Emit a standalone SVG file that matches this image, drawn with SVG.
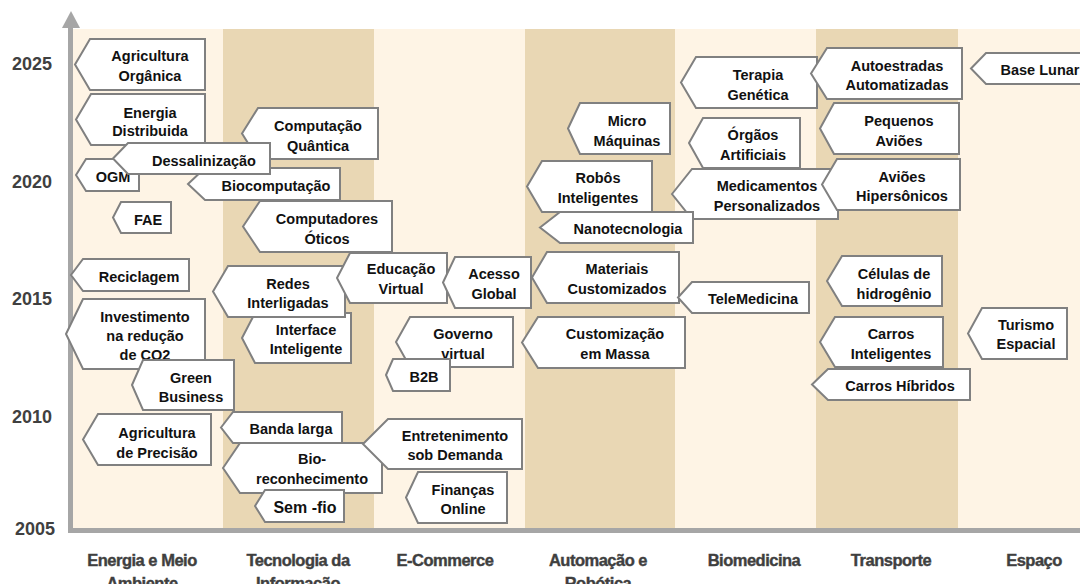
<svg xmlns="http://www.w3.org/2000/svg" width="1080" height="584" viewBox="0 0 1080 584">
<style>
.bl{fill:#FEF4E5}
.bd{fill:#E9D7B4}
.ax{fill:#A6A6A6}
.yr{font-family:"Liberation Sans",Arial,sans-serif;font-weight:bold;font-size:18px;fill:#404040;text-anchor:end}
.cat{font-family:"Liberation Sans",Arial,sans-serif;font-weight:bold;font-size:16.5px;fill:#3F3F3F;stroke:#3F3F3F;stroke-width:0.4;text-anchor:middle;letter-spacing:-0.5px}
.n polygon{fill:#FFFFFF;stroke:#808080;stroke-width:2;stroke-linejoin:miter}
.n text{font-family:"Liberation Sans",Arial,sans-serif;font-weight:bold;font-size:14.5px;fill:#111111;text-anchor:middle}
</style>
<rect width="1080" height="584" fill="#FFFFFF"/>
<g id="bands">
<rect class="bl" x="73" y="29" width="150" height="500"/>
<rect class="bd" x="223" y="29" width="151" height="500"/>
<rect class="bl" x="374" y="29" width="151" height="500"/>
<rect class="bd" x="525" y="29" width="150" height="500"/>
<rect class="bl" x="675" y="29" width="141" height="500"/>
<rect class="bd" x="816" y="29" width="142" height="500"/>
<rect class="bl" x="958" y="29" width="122" height="500"/>
</g>
<g id="axes">
<rect class="ax" x="68" y="27" width="5" height="506"/>
<rect class="ax" x="68" y="528" width="1012" height="5"/>
<polygon class="ax" points="62,28 80,28 71,11"/>
</g>
<g id="years">
<text class="yr" x="52" y="70">2025</text>
<text class="yr" x="52" y="188">2020</text>
<text class="yr" x="52" y="305">2015</text>
<text class="yr" x="52" y="423">2010</text>
<text class="yr" x="55" y="535">2005</text>
</g>
<g id="categories">
<text class="cat" x="142" y="566">Energia e Meio<tspan x="142" y="589">Ambiente</tspan></text>
<text class="cat" x="298" y="566">Tecnologia da<tspan x="298" y="589">Informação</tspan></text>
<text class="cat" x="445" y="566">E-Commerce</text>
<text class="cat" x="598" y="566">Automação e<tspan x="598" y="589">Robótica</tspan></text>
<text class="cat" x="754" y="566">Biomedicina</text>
<text class="cat" x="891" y="566">Transporte</text>
<text class="cat" x="1034" y="566">Espaço</text>
</g>
<g id="connectors"></g>
<g id="n-agricultura-organica" class="n"><polygon points="75,64.5 90,39 205,39 205,90 90,90"/><text x="150" y="60.5">Agricultura</text><text x="150" y="80.5">Orgânica</text></g>
<g id="n-energia-distribuida" class="n"><polygon points="76,119.5 91,94 205,94 205,145 91,145"/><text x="150" y="117.5">Energia</text><text x="150" y="136">Distribuida</text></g>
<g id="n-ogm" class="n"><polygon points="76,175 86,159 139,159 139,191 86,191"/><text x="113" y="181.5">OGM</text></g>
<g id="n-biocomputacao" class="n"><polygon points="188,184 205,168 340,168 340,200 205,200"/><text x="276" y="190.5">Biocomputação</text></g>
<g id="n-computacao-quantica" class="n"><polygon points="242,133.5 258,108 378,108 378,159 258,159"/><text x="318" y="130.5">Computação</text><text x="318" y="150.5">Quântica</text></g>
<g id="n-dessalinizacao" class="n"><polygon points="113,158.5 128,143 270,143 270,174 128,174"/><text x="204" y="165.5">Dessalinização</text></g>
<g id="n-fae" class="n"><polygon points="113,217.5 121,202 171,202 171,233 121,233"/><text x="148" y="224.5">FAE</text></g>
<g id="n-computadores-oticos" class="n"><polygon points="243,226.5 260,201 392,201 392,252 260,252"/><text x="327" y="223.5">Computadores</text><text x="327" y="243.5">Óticos</text></g>
<g id="n-reciclagem" class="n"><polygon points="71,275 83,259 189,259 189,291 83,291"/><text x="139" y="281.5">Reciclagem</text></g>
<g id="n-investimento" class="n"><polygon points="66,334 83,299 205,299 205,369 83,369"/><text x="145" y="321.5">Investimento</text><text x="145" y="340.5">na redução</text><text x="145" y="359.5">de CO2</text></g>
<g id="n-green-business" class="n"><polygon points="132,385 143,360 234,360 234,410 143,410"/><text x="191" y="382.5">Green</text><text x="191" y="401.5">Business</text></g>
<g id="n-agricultura-precisao" class="n"><polygon points="83,439.5 98,414 211,414 211,465 98,465"/><text x="157" y="437.5">Agricultura</text><text x="157" y="457.5">de Precisão</text></g>
<g id="n-interface-inteligente" class="n"><polygon points="242,338 255,313 351,313 351,363 255,363"/><text x="306" y="334.5">Interface</text><text x="306" y="353.5">Inteligente</text></g>
<g id="n-redes-interligadas" class="n"><polygon points="213,291.5 228,266 345,266 345,317 228,317"/><text x="288" y="288.5">Redes</text><text x="288" y="307.5">Interligadas</text></g>
<g id="n-educacao-virtual" class="n"><polygon points="337,278 350,253 447,253 447,303 350,303"/><text x="401" y="273.5">Educação</text><text x="401" y="293.5">Virtual</text></g>
<g id="n-acesso-global" class="n"><polygon points="443,282.5 455,257 531,257 531,308 455,308"/><text x="494" y="278.5">Acesso</text><text x="494" y="298.5">Global</text></g>
<g id="n-governo-virtual" class="n"><polygon points="396,342 410,317 513,317 513,367 410,367"/><text x="463" y="338.5">Governo</text><text x="463" y="358.5">virtual</text></g>
<g id="n-b2b" class="n"><polygon points="386,375 393,359 450,359 450,391 393,391"/><text x="424" y="381.5">B2B</text></g>
<g id="n-banda-larga" class="n"><polygon points="221,427.5 233,412 342,412 342,443 233,443"/><text x="291" y="433.5">Banda larga</text></g>
<g id="n-bio-reconhecimento" class="n"><polygon points="223,468 240,443 382,443 382,493 240,493"/><text x="312" y="463.5">Bio-</text><text x="312" y="483.5">reconhecimento</text></g>
<g id="n-entretenimento" class="n"><polygon points="363,444 388,419 522,419 522,469 388,469"/><text x="455" y="440.5">Entretenimento</text><text x="455" y="459.5">sob Demanda</text></g>
<g id="n-sem-fio" class="n"><polygon points="255,506 265,490 344,490 344,522 265,522"/><text x="305" y="513" style="font-size:16px">Sem -fio</text></g>
<g id="n-financas-online" class="n"><polygon points="406,497.5 418,472 507,472 507,523 418,523"/><text x="463" y="494.5">Finanças</text><text x="463" y="513.5">Online</text></g>
<g id="n-micro-maquinas" class="n"><polygon points="568,128.5 580,103 670,103 670,154 580,154"/><text x="627" y="125.5">Micro</text><text x="627" y="145.5">Máquinas</text></g>
<g id="n-robos-inteligentes" class="n"><polygon points="527,186.5 542,161 652,161 652,212 542,212"/><text x="598" y="182.5">Robôs</text><text x="598" y="202.5">Inteligentes</text></g>
<g id="n-orgaos-artificiais" class="n"><polygon points="689,143 703,118 800,118 800,168 703,168"/><text x="753" y="139.5">Órgãos</text><text x="753" y="159.5">Artificiais</text></g>
<g id="n-medicamentos" class="n"><polygon points="672,194 692,169 838,169 838,219 692,219"/><text x="767" y="190.5">Medicamentos</text><text x="767" y="210.5">Personalizados</text></g>
<g id="n-nanotecnologia" class="n"><polygon points="540,227.5 560,212 693,212 693,243 560,243"/><text x="628" y="233.5">Nanotecnologia</text></g>
<g id="n-materiais-customizados" class="n"><polygon points="532,277.5 547,252 679,252 679,303 547,303"/><text x="617" y="273.5">Materiais</text><text x="617" y="293.5">Customizados</text></g>
<g id="n-telemedicina" class="n"><polygon points="678,297.5 692,282 809,282 809,313 692,313"/><text x="753" y="303.5">TeleMedicina</text></g>
<g id="n-customizacao-massa" class="n"><polygon points="522,342.5 538,317 685,317 685,368 538,368"/><text x="615" y="338.5">Customização</text><text x="615" y="358.5">em Massa</text></g>
<g id="n-terapia-genetica" class="n"><polygon points="681,82.5 696,57 817,57 817,108 696,108"/><text x="758" y="79.5">Terapia</text><text x="758" y="99.5">Genética</text></g>
<g id="n-autoestradas" class="n"><polygon points="811,73.5 827,48 962,48 962,99 827,99"/><text x="897" y="70.5">Autoestradas</text><text x="897" y="89.5">Automatizadas</text></g>
<g id="n-base-lunar" class="n"><polygon points="971,68.5 986,53 1092,53 1092,84 986,84"/><text x="1040" y="74.5">Base Lunar</text></g>
<g id="n-pequenos-avioes" class="n"><polygon points="820,128.5 834,103 959,103 959,154 834,154"/><text x="899" y="125.5">Pequenos</text><text x="899" y="145.5">Aviões</text></g>
<g id="n-avioes-hipersonicos" class="n"><polygon points="822,184.5 837,159 960,159 960,210 837,210"/><text x="902" y="181.5">Aviões</text><text x="902" y="200.5">Hipersônicos</text></g>
<g id="n-celulas-hidrogenio" class="n"><polygon points="827,281 842,256 942,256 942,306 842,306"/><text x="894" y="278.5">Células de</text><text x="894" y="298.5">hidrogênio</text></g>
<g id="n-carros-inteligentes" class="n"><polygon points="820,342 835,317 943,317 943,367 835,367"/><text x="891" y="338.5">Carros</text><text x="891" y="358.5">Inteligentes</text></g>
<g id="n-carros-hibridos" class="n"><polygon points="812,384.5 828,369 970,369 970,400 828,400"/><text x="900" y="390.5">Carros Híbridos</text></g>
<g id="n-turismo-espacial" class="n"><polygon points="968,333.5 982,308 1067,308 1067,359 982,359"/><text x="1026" y="329.5">Turismo</text><text x="1026" y="348.5">Espacial</text></g>
</svg>
